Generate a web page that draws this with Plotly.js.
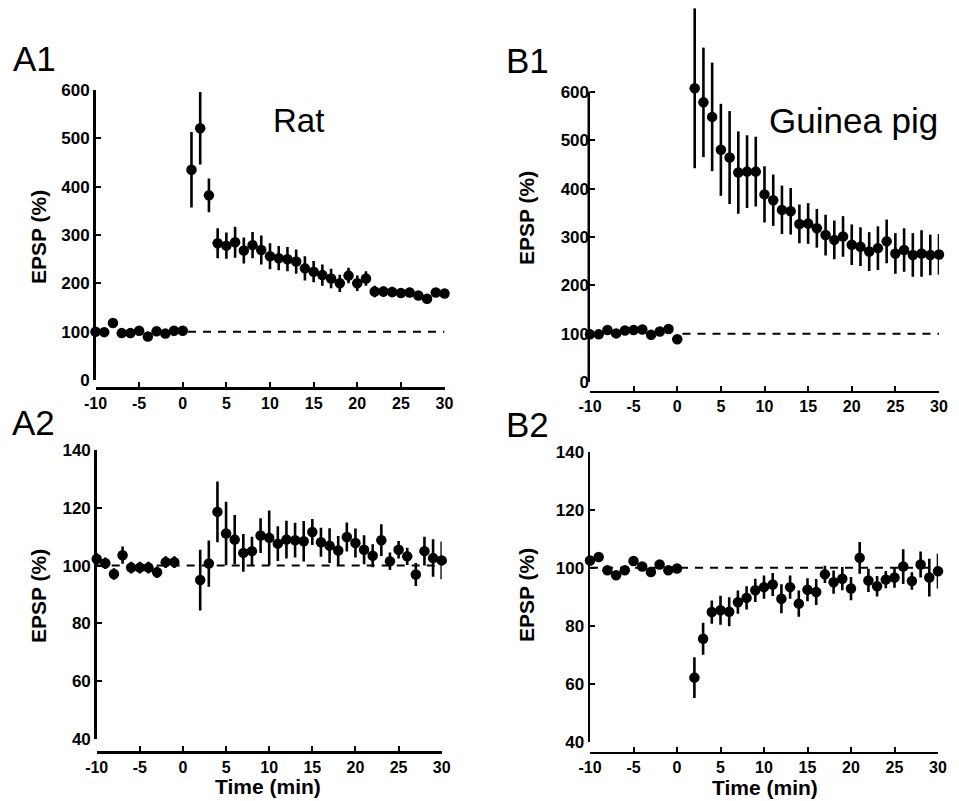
<!DOCTYPE html>
<html>
<head>
<meta charset="utf-8">
<script src="https://cdn.plot.ly/plotly-3.0.1.min.js"></script>
<style>
html,body{margin:0;padding:0;background:#fff;}
#chart{width:959px;height:801px;}
</style>
</head>
<body>
<div id="chart"></div>
<script>
// ---------------- DATA ----------------
// A1 Rat (EPSP %, large scale)
const timeA1 = [-10,-9,-8,-7,-6,-5,-4,-3,-2,-1,0,1,2,3,4,5,6,7,8,9,10,11,12,13,14,15,16,17,18,19,20,21,22,23,24,25,26,27,28,29,30];
const epspA1 = [100,99,118,97,97,102,90,101,96,102,102,435,521,382,283,278,285,268,279,269,256,252,250,245,231,224,217,210,200,216,200,210,183,183,182,180,181,175,168,181,179];
const errA1  = [5,4,6,4,4,4,5,4,4,4,4,78,75,35,31,27,32,27,27,30,27,25,25,25,25,22,22,20,18,16,16,15,12,11,11,10,10,9,9,9,8];

// B1 Guinea pig (EPSP %, large scale)
const timeB1 = [-10,-9,-8,-7,-6,-5,-4,-3,-2,-1,0,2,3,4,5,6,7,8,9,10,11,12,13,14,15,16,17,18,19,20,21,22,23,24,25,26,27,28,29,30];
const epspB1 = [99,99,108,101,107,108,109,98,105,110,89,607,578,548,480,464,433,435,435,388,376,356,353,327,328,318,304,294,301,284,280,270,277,291,266,273,263,266,263,264];
const errB1  = [3,3,3,3,3,3,3,3,3,3,3,165,113,112,95,96,85,75,72,58,53,50,48,40,42,40,42,40,42,42,40,40,45,45,42,45,45,48,42,42];

// A2 Rat (EPSP %, small scale)
const timeA2 = [-10,-9,-8,-7,-6,-5,-4,-3,-2,-1,2,3,4,5,6,7,8,9,10,11,12,13,14,15,16,17,18,19,20,21,22,23,24,25,26,27,28,29,30];
const epspA2 = [102.3,100.8,97.1,103.6,99.3,99.3,99.3,97.7,101.2,101.2,95,100.7,118.6,111.1,109,104.4,105,110.4,109.6,107.6,109,108.8,108.4,111.6,108.1,106.9,105.2,109.9,107.8,105.5,103.4,108.8,101.5,105.5,103.2,96.9,105,102.6,101.8];
const errA2  = [2,2,2,3,2,2,2,2,2,2,10.5,8,10.5,11,8.5,6.5,5,6,9.5,6,6.5,6,7,4.5,5,6,5,5,5,5,4,5.5,3,3,3,4,5,6.5,6.5];

// B2 Guinea pig (EPSP %, small scale)
const timeB2 = [-10,-9,-8,-7,-6,-5,-4,-3,-2,-1,0,2,3,4,5,6,7,8,9,10,11,12,13,14,15,16,17,18,19,20,21,22,23,24,25,26,27,28,29,30];
const epspB2 = [102.5,103.7,99.1,97.4,99.1,102.3,100.4,98.5,101.1,99.1,99.7,62.1,75.5,84.7,85.3,84.8,88.1,89.6,92.2,93.3,94.2,89.3,93.3,87.6,92.4,91.6,97.7,95,96.2,92.8,103.4,95.6,93.6,95.9,96.6,100.4,95.4,101.1,96.6,98.8];
const errB2  = [1.5,1.5,1.5,1.5,1.5,1.5,1.5,1.5,1.5,1.5,1.5,7,5.5,4,5,5,4,4,4,4,4,5,4,4.5,4,4.5,3,4,4,4,5.5,4,3.5,3,3.5,6,3,4.5,6.5,6];

// axes ticks / labels
const xTickVals = [-10,-5,0,5,10,15,20,25,30];
const xTickText = ['-10','-5','0','5','10','15','20','25','30'];
const yTickValsLarge = [0,100,200,300,400,500,600];
const yTickValsSmall = [40,60,80,100,120,140];
const baseline = 100;
const panelLabels = ['A1','B1','A2','B2'];
const speciesLabels = ['Rat','Guinea pig'];
const yTitle = 'EPSP (%)';
const xTitle = 'Time (min)';

// ---------------- LAYOUT HELPERS ----------------
const W = 959, H = 801;
const FONT = 'Liberation Sans, Arial, Helvetica, sans-serif';
const px = v => v / W;
const py = v => 1 - v / H;
const LW = 2.5;

function xAxis(left, right, linePx) {
  return {
    domain: [px(left), px(right)], range: [-10, 30], anchor: 'free', position: py(linePx),
    showline: true, linewidth: LW, linecolor: '#000', mirror: false,
    ticks: 'inside', ticklen: 5, tickwidth: 2, tickcolor: '#000',
    tickmode: 'array', tickvals: xTickVals, ticktext: xTickText,
    showgrid: false, zeroline: false, fixedrange: true,
    tickfont: {family: FONT, size: 16, color: '#000', weight: 'bold'}
  };
}
function yAxis(bottom, top, anchor, range, vals, showline) {
  return {
    domain: [py(bottom), py(top)], range: range, anchor: anchor,
    showline: showline, linewidth: LW, linecolor: '#000',
    ticks: 'inside', ticklen: 5, tickwidth: 2, tickcolor: '#000',
    tickmode: 'array', tickvals: vals,
    showgrid: false, zeroline: false, fixedrange: true,
    tickfont: {family: FONT, size: 17, color: '#000', weight: 'bold'}
  };
}

function series(t, v, e, xa, ya) {
  return {
    type: 'scatter', mode: 'markers', x: t, y: v, xaxis: xa, yaxis: ya,
    cliponaxis: false, showlegend: false, hoverinfo: 'skip',
    marker: {size: 10.5, color: '#000', line: {width: 0}},
    error_y: {type: 'data', array: e, visible: true, thickness: 2.6, width: 0, color: '#000'}
  };
}

const data = [
  series(timeA1, epspA1, errA1, 'x', 'y'),
  series(timeB1, epspB1, errB1, 'x2', 'y2'),
  series(timeA2, epspA2, errA2, 'x3', 'y3'),
  series(timeB2, epspB2, errB2, 'x4', 'y4')
];

function refLine(xa, ya, start) {
  return {type: 'line', xref: xa, yref: ya, x0: start, x1: 30, y0: baseline, y1: baseline,
          layer: 'below', line: {color: '#000', width: 2, dash: '8px,7px'}};
}

function ann(text, xPx, yPx, size, opts) {
  return Object.assign({
    text: text, xref: 'paper', yref: 'paper', x: px(xPx), y: py(yPx),
    showarrow: false, xanchor: 'center', yanchor: 'middle',
    font: {family: FONT, size: size, color: '#000'}
  }, opts || {});
}

// B1: the first post-tetanic point and its error bar rise above the 600 end of
// the axis, so the plotting area reaches the top of the figure and the axis
// line itself is drawn only from 0 to 600.
const b1Zero = 382.3, b1Six = 91.7;
const b1RangeTop = 600 * b1Zero / (b1Zero - b1Six);
const b1AxisLine = {type: 'line', xref: 'paper', yref: 'y2',
  x0: px(590) - LW / 2 / W, x1: px(590) - LW / 2 / W,
  y0: yTickValsLarge[0], y1: yTickValsLarge[yTickValsLarge.length - 1],
  layer: 'above', line: {color: '#000', width: LW}};

const boldTitle = {family: FONT, size: 21, color: '#000', weight: 'bold'};

const layout = {
  width: W, height: H, margin: {l: 0, r: 0, t: 0, b: 0},
  paper_bgcolor: '#fff', plot_bgcolor: 'rgba(0,0,0,0)',
  showlegend: false,
  xaxis:  xAxis(95.5, 444.5, 388),
  yaxis:  yAxis(380, 90, 'x', [0, 600], yTickValsLarge, true),
  xaxis2: xAxis(590, 939, 391.7),
  yaxis2: Object.assign(yAxis(b1Zero, 0, 'x2', [0, b1RangeTop], yTickValsLarge, false), {domain: [py(b1Zero), 1]}),
  xaxis3: xAxis(96.7, 441.7, 752),
  yaxis3: yAxis(739, 450, 'x3', [40, 140], yTickValsSmall, true),
  xaxis4: xAxis(590, 938, 752.7),
  yaxis4: yAxis(741.7, 451.7, 'x4', [40, 140], yTickValsSmall, true),
  shapes: [
    refLine('x', 'y', 0.6),
    refLine('x2', 'y2', 0.6),
    refLine('x3', 'y3', -10),
    refLine('x4', 'y4', -10),
    b1AxisLine
  ],
  annotations: [
    ann(panelLabels[0], 11, 59, 35, {xanchor: 'left'}),
    ann(panelLabels[1], 504, 61, 35, {xanchor: 'left'}),
    ann(panelLabels[2], 10, 423, 35, {xanchor: 'left'}),
    ann(panelLabels[3], 504, 425, 35, {xanchor: 'left'}),
    ann(speciesLabels[0], 298, 120, 33),
    ann(speciesLabels[1], 853, 120, 35),
    ann(yTitle, 38, 237, 21, {textangle: -90, font: boldTitle}),
    ann(yTitle, 526, 218, 21, {textangle: -90, font: boldTitle}),
    ann(yTitle, 38, 596, 21, {textangle: -90, font: boldTitle}),
    ann(yTitle, 526, 595, 21, {textangle: -90, font: boldTitle}),
    ann(xTitle, 268, 786, 21, {font: boldTitle}),
    ann(xTitle, 765, 787, 21, {font: boldTitle})
  ]
};

Plotly.newPlot('chart', data, layout, {staticPlot: true, displayModeBar: false});
</script>
</body>
</html>
